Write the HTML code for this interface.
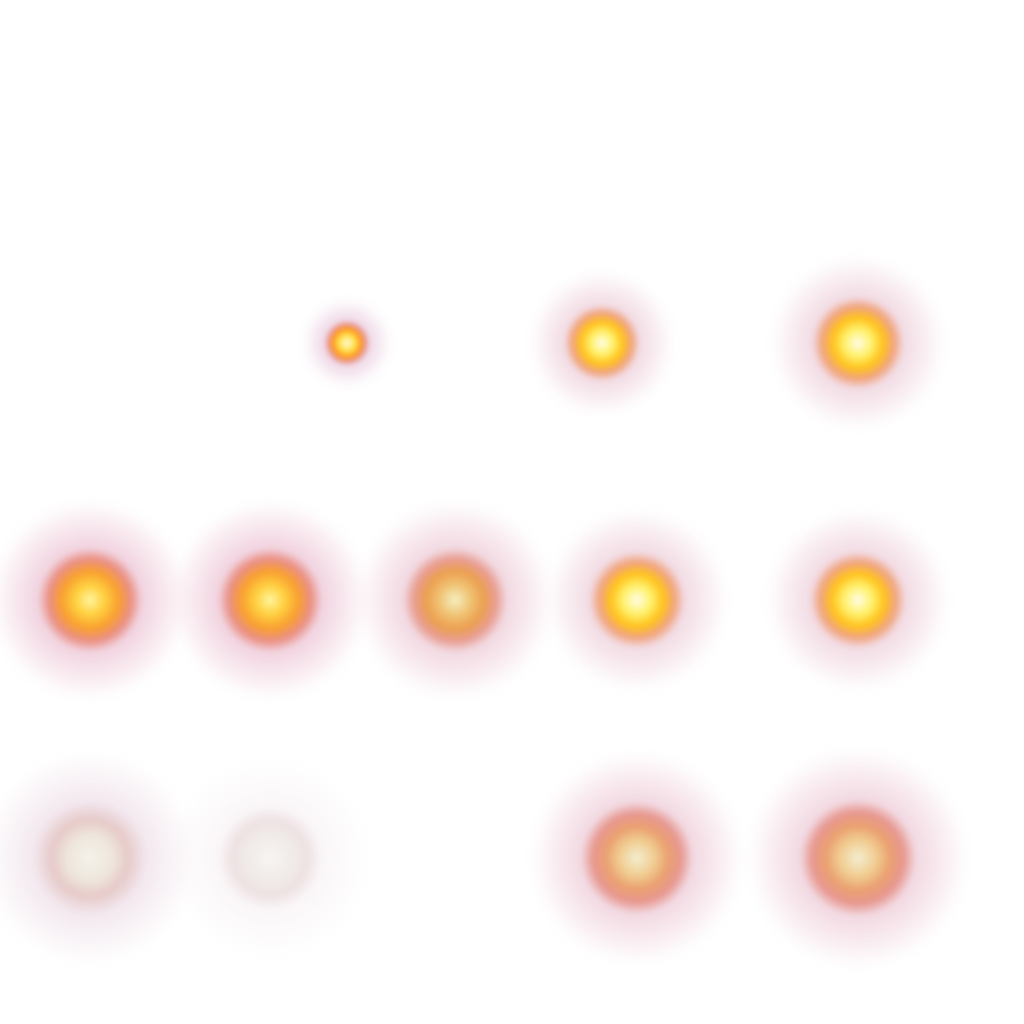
<!DOCTYPE html>
<html><head><meta charset="utf-8"><style>
html,body{margin:0;padding:0;background:#fff;width:1024px;height:1024px;overflow:hidden;position:relative}
.halo{position:absolute;border-radius:50%;filter:blur(5px)}
.core{position:absolute;border-radius:50%;filter:blur(2px)}
</style></head><body>
<script>
// [cx, cy, radius, type]
const sprites=[
 [347,343,23,'small'],[602,343,38,'bright'],[858,343,46,'bright'],
 [90,600,52,'orange'],[270,600,52,'orange'],[455,600,52,'dim'],[637,600,48,'bright'],[858,600,48,'bright'],
 [90,858,56,'smoke'],[270,858,52,'smoke2'],[637,858,56,'late'],[858,858,58,'late']
];
const styles={
 small:{halo:'rgba(200,120,170,0.3)',core:'radial-gradient(circle closest-side,#fffbe0 0%,#ffe14a 35%,#ff9a20 60%,rgba(230,90,60,0.5) 80%,rgba(230,90,60,0) 100%)'},
 bright:{halo:'rgba(210,130,160,0.3)',core:'radial-gradient(circle closest-side,#fffde8 0%,#fff06a 30%,#ffc21e 55%,rgba(240,130,60,0.6) 78%,rgba(230,90,80,0) 100%)'},
 orange:{halo:'rgba(210,110,150,0.32)',core:'radial-gradient(circle closest-side,#fff6a0 0%,#ffd040 28%,#f8a030 55%,rgba(230,100,70,0.6) 78%,rgba(220,90,90,0) 100%)'},
 dim:{halo:'rgba(210,120,150,0.3)',core:'radial-gradient(circle closest-side,#f4f0c0 0%,#f0c070 32%,#eba050 56%,rgba(225,110,80,0.55) 78%,rgba(220,90,90,0) 100%)'},
 smoke:{halo:'rgba(200,150,180,0.24)',core:'radial-gradient(circle closest-side,#f4f2ea 0%,#eee6dc 40%,rgba(225,190,185,0.7) 68%,rgba(210,160,170,0) 100%)'},
 smoke2:{halo:'rgba(220,190,205,0.14)',core:'radial-gradient(circle closest-side,#f7f5f3 0%,#f0eae8 45%,rgba(230,212,212,0.6) 72%,rgba(220,200,200,0) 100%)'},
 late:{halo:'rgba(210,120,150,0.3)',core:'radial-gradient(circle closest-side,#f4eed0 0%,#f0cc90 32%,#eaa070 56%,rgba(225,110,90,0.6) 78%,rgba(220,90,100,0) 100%)'}
};
sprites.forEach((d,i)=>{
 const [cx,cy,r,t]=d, st=styles[t];
 const g=document.createElement('div');
 
 
 g.style.cssText='position:absolute;left:'+cx+'px;top:'+cy+'px;width:0;height:0';
 const h=document.createElement('div');h.className='halo';
 
 
 const hr=r*1.9;
 h.style.left=(-hr)+'px';h.style.top=(-hr)+'px';h.style.width=(2*hr)+'px';h.style.height=(2*hr)+'px';
 h.style.background='radial-gradient(circle closest-side,'+st.halo+' 0%,'+st.halo+' 50%,rgba(255,255,255,0) 100%)';
 const c=document.createElement('div');c.className='core';
 
 
 c.style.left=(-r)+'px';c.style.top=(-r)+'px';c.style.width=(2*r)+'px';c.style.height=(2*r)+'px';
 c.style.background=st.core;
 g.appendChild(h);g.appendChild(c);document.body.appendChild(g);
});
</script>
</body></html>
